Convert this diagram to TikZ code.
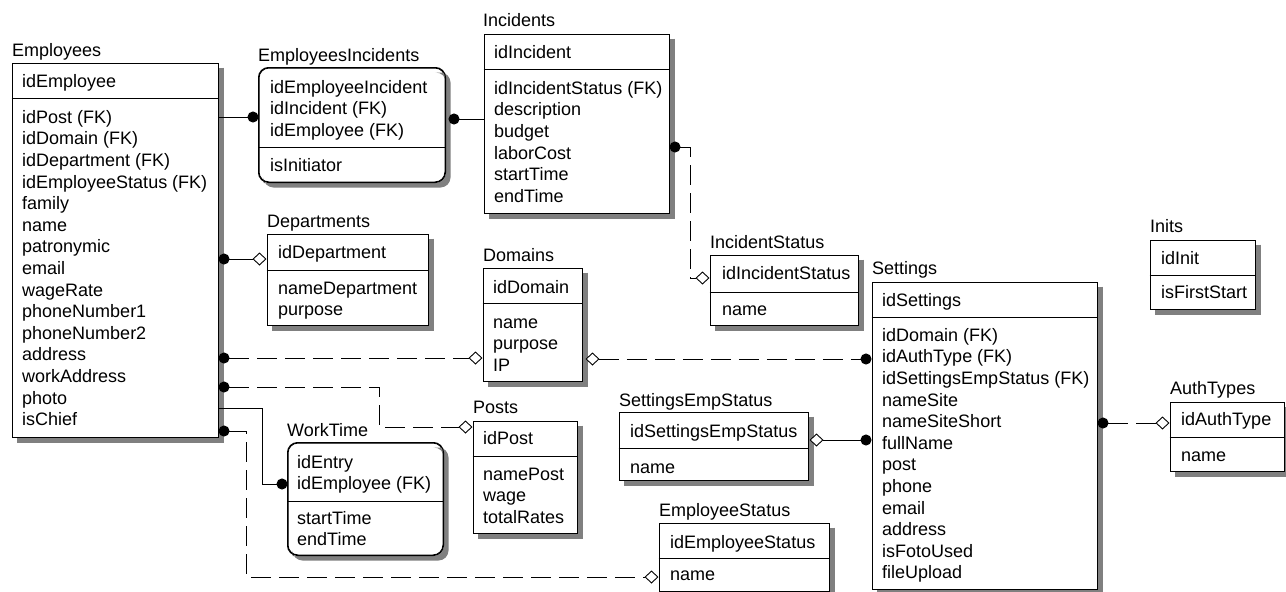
\documentclass[tikz,border=0pt]{standalone}
\usepackage{fontspec}
\setmainfont{Liberation Sans}
\usetikzlibrary{arrows.meta,calc}
\newcommand\erfont{\fontsize{18}{21.6}\selectfont}
\tikzset{
  ent/.style={draw, line width=1pt, fill=white, inner sep=0pt},
  rent/.style={ent, rounded corners=10pt},
  shadowstroke/.style={draw=black!50, line width=5pt, line cap=butt, line join=miter},
  keysep/.style={line width=1pt},
  ttl/.style={anchor=base west, inner sep=0pt, font=\erfont},
  fld/.style={anchor=north west, inner sep=0pt, align=left, font=\erfont},
  rel/.style={line width=0.9pt},
  opt/.style={dash pattern=on 20pt off 8pt},
  fkdot/.tip={Circle[length=11pt]},
  fkdia/.tip={Diamond[length=14pt,width=13pt,fill=white,line width=0.9pt]},
}
\begin{document}
\begin{tikzpicture}[x=1pt,y=-1pt]
\useasboundingbox (0,0) rectangle (1286,592);

% ---------- entity boxes ----------
\node[ent,  minimum width=206pt, minimum height=374pt] (emp) at (115,250) {};
\node[rent, minimum width=186pt, minimum height=114pt] (ei)  at (352,125) {};
\node[ent,  minimum width=185pt, minimum height=179pt] (inc) at (576.5,123.5) {};
\node[ent,  minimum width=161pt, minimum height=91pt]  (dep) at (347.5,279.5) {};
\node[ent,  minimum width=99pt,  minimum height=113pt] (dom) at (532.5,324.5) {};
\node[ent,  minimum width=148pt, minimum height=70pt]  (ist) at (784,290) {};
\node[ent,  minimum width=225pt, minimum height=307pt] (set) at (984.5,435.5) {};
\node[ent,  minimum width=105pt, minimum height=69pt]  (ini) at (1202.5,274.5) {};
\node[ent,  minimum width=114pt, minimum height=69pt]  (aut) at (1227,436.5) {};
\node[ent,  minimum width=104pt, minimum height=112pt] (pos) at (525,477) {};
\node[rent, minimum width=155pt, minimum height=112pt] (wt)  at (365.5,499) {};
\node[ent,  minimum width=189pt, minimum height=68pt]  (ses) at (713.5,446) {};
\node[ent,  minimum width=170pt, minimum height=68pt]  (est) at (744,557) {};

% ---------- shadows: grey strips along the right and bottom sides ----------
\draw[shadowstroke] ([shift={(2.5,5)}]emp.north east) -- ([shift={(2.5,2.5)}]emp.south east) -- ([shift={(5,2.5)}]emp.south west);
\draw[shadowstroke] ([shift={(2.5,5)}]inc.north east) -- ([shift={(2.5,2.5)}]inc.south east) -- ([shift={(5,2.5)}]inc.south west);
\draw[shadowstroke] ([shift={(2.5,5)}]dep.north east) -- ([shift={(2.5,2.5)}]dep.south east) -- ([shift={(5,2.5)}]dep.south west);
\draw[shadowstroke] ([shift={(2.5,5)}]dom.north east) -- ([shift={(2.5,2.5)}]dom.south east) -- ([shift={(5,2.5)}]dom.south west);
\draw[shadowstroke] ([shift={(2.5,5)}]ist.north east) -- ([shift={(2.5,2.5)}]ist.south east) -- ([shift={(5,2.5)}]ist.south west);
\draw[shadowstroke] ([shift={(2.5,5)}]set.north east) -- ([shift={(2.5,2.5)}]set.south east) -- ([shift={(5,2.5)}]set.south west);
\draw[shadowstroke] ([shift={(2.5,5)}]ini.north east) -- ([shift={(2.5,2.5)}]ini.south east) -- ([shift={(5,2.5)}]ini.south west);
\draw[shadowstroke] ([shift={(2.5,5)}]aut.north east) -- ([shift={(2.5,2.5)}]aut.south east) -- ([shift={(5,2.5)}]aut.south west);
\draw[shadowstroke] ([shift={(2.5,5)}]pos.north east) -- ([shift={(2.5,2.5)}]pos.south east) -- ([shift={(5,2.5)}]pos.south west);
\draw[shadowstroke] ([shift={(2.5,5)}]ses.north east) -- ([shift={(2.5,2.5)}]ses.south east) -- ([shift={(5,2.5)}]ses.south west);
\draw[shadowstroke] ([shift={(2.5,5)}]est.north east) -- ([shift={(2.5,2.5)}]est.south east) -- ([shift={(5,2.5)}]est.south west);
% rounded boxes: strips follow the rounded outline
\fill[black!50, rounded corners=10pt] ([shift={(-10,5)}]ei.north east) -- ([shift={(5,5)}]ei.north east) -- ([shift={(5,5)}]ei.south east) -- ([shift={(5,5)}]ei.south west) -- ([shift={(5,-10)}]ei.south west) [sharp corners] -- ([shift={(5,0.5)}]ei.south west) [rounded corners=10pt] -- ([shift={(0.5,0.5)}]ei.south east) -- ([shift={(0.5,5)}]ei.north east) [sharp corners] -- cycle;
\fill[black!50, rounded corners=10pt] ([shift={(-10,5)}]wt.north east) -- ([shift={(5,5)}]wt.north east) -- ([shift={(5,5)}]wt.south east) -- ([shift={(5,5)}]wt.south west) -- ([shift={(5,-10)}]wt.south west) [sharp corners] -- ([shift={(5,0.5)}]wt.south west) [rounded corners=10pt] -- ([shift={(0.5,0.5)}]wt.south east) -- ([shift={(0.5,5)}]wt.north east) [sharp corners] -- cycle;
\draw[line width=1pt, rounded corners=10pt] (ei.north west) rectangle (ei.south east);
\draw[line width=1pt, rounded corners=10pt] (wt.north west) rectangle (wt.south east);

% ---------- key / attribute separators ----------
\draw[keysep] (emp.west |- 0,98)  -- (emp.east |- 0,98);
\draw[keysep] (ei.west |- 0,147)  -- (ei.east |- 0,147);
\draw[keysep] (inc.west |- 0,69)  -- (inc.east |- 0,69);
\draw[keysep] (dep.west |- 0,270) -- (dep.east |- 0,270);
\draw[keysep] (dom.west |- 0,303) -- (dom.east |- 0,303);
\draw[keysep] (ist.west |- 0,292) -- (ist.east |- 0,292);
\draw[keysep] (set.west |- 0,317) -- (set.east |- 0,317);
\draw[keysep] (ini.west |- 0,275) -- (ini.east |- 0,275);
\draw[keysep] (aut.west |- 0,437) -- (aut.east |- 0,437);
\draw[keysep] (pos.west |- 0,456) -- (pos.east |- 0,456);
\draw[keysep] (wt.west |- 0,501)  -- (wt.east |- 0,501);
\draw[keysep] (ses.west |- 0,448) -- (ses.east |- 0,448);
\draw[keysep] (est.west |- 0,558) -- (est.east |- 0,558);

% ---------- titles ----------
\node[ttl] (emp-t) at (12,56)    {Employees};
\node[ttl] (ei-t)  at (258,61)   {EmployeesIncidents};
\node[ttl] (inc-t) at (483,26)   {Incidents};
\node[ttl] (dep-t) at (267,227)  {Departments};
\node[ttl] (dom-t) at (483,261)  {Domains};
\node[ttl] (ist-t) at (710,248)  {IncidentStatus};
\node[ttl] (set-t) at (872,274)  {Settings};
\node[ttl] (ini-t) at (1150,232) {Inits};
\node[ttl] (aut-t) at (1170,394) {AuthTypes};
\node[ttl] (pos-t) at (473,413)  {Posts};
\node[ttl] (wt-t)  at (287,436)  {WorkTime};
\node[ttl] (ses-t) at (619,406)  {SettingsEmpStatus};
\node[ttl] (est-t) at (659,516)  {EmployeeStatus};

% ---------- fields ----------
\node[fld] (emp-k) at (22,71.9) {\strut idEmployee};
\node[fld] (emp-a) at (22,107.9) {\strut idPost (FK)\\idDomain (FK)\\idDepartment (FK)\\idEmployeeStatus (FK)\\family\\name\\patronymic\\email\\wageRate\\phoneNumber1\\phoneNumber2\\address\\workAddress\\photo\\isChief};

\node[fld] (ei-k) at (270,77.9) {\strut idEmployeeIncident\\idIncident (FK)\\idEmployee (FK)};
\node[fld] (ei-a) at (270,155.9) {\strut isInitiator};

\node[fld] (inc-k) at (494,42.9) {\strut idIncident};
\node[fld] (inc-a) at (494,78.9) {\strut idIncidentStatus (FK)\\description\\budget\\laborCost\\startTime\\endTime};

\node[fld] (dep-k) at (278,242.9) {\strut idDepartment};
\node[fld] (dep-a) at (278,278.9) {\strut nameDepartment\\purpose};

\node[fld] (dom-k) at (493,277.9) {\strut idDomain};
\node[fld] (dom-a) at (493,312.9) {\strut name\\purpose\\IP};

\node[fld] (ist-k) at (722,263.9) {\strut idIncidentStatus};
\node[fld] (ist-a) at (722,299.9) {\strut name};

\node[fld] (set-k) at (882,290.9) {\strut idSettings};
\node[fld] (set-a) at (882,325.9) {\strut idDomain (FK)\\idAuthType (FK)\\idSettingsEmpStatus (FK)\\nameSite\\nameSiteShort\\fullName\\post\\phone\\email\\address\\isFotoUsed\\fileUpload};

\node[fld] (ini-k) at (1161,248.9) {\strut idInit};
\node[fld] (ini-a) at (1161,282.9) {\strut isFirstStart};

\node[fld] (aut-k) at (1181,409.9) {\strut idAuthType};
\node[fld] (aut-a) at (1181,445.9) {\strut name};

\node[fld] (pos-k) at (483,428.9) {\strut idPost};
\node[fld] (pos-a) at (483,464.9) {\strut namePost\\wage\\totalRates};

\node[fld] (wt-k) at (297,452.9) {\strut idEntry\\idEmployee (FK)};
\node[fld] (wt-a) at (297,508.9) {\strut startTime\\endTime};

\node[fld] (ses-k) at (630,421.9) {\strut idSettingsEmpStatus};
\node[fld] (ses-a) at (630,457.9) {\strut name};

\node[fld] (est-k) at (670,532.9) {\strut idEmployeeStatus};
\node[fld] (est-a) at (670,564.9) {\strut name};

% ---------- relationships ----------
\draw[rel,-fkdot] (emp.east |- 0,117) -- (ei.west |- 0,117);
\draw[rel,fkdot-] ($(ei.east |- 0,119)+(3,0)$) -- (inc.west |- 0,119);
\draw[rel,opt,fkdot-fkdia] (inc.east |- 0,147) -- (690,147) -- (690,278) -- (ist.west |- 0,278);
\draw[rel,fkdot-fkdia] (emp.east |- 0,259) -- (dep.west |- 0,259);
\draw[rel,opt,fkdot-fkdia] (emp.east |- 0,358) -- (dom.west |- 0,358);
\draw[rel,opt,fkdia-fkdot] ($(dom.east |- 0,359)+(3,0)$) -- (set.west |- 0,359);
\draw[rel,opt,fkdot-fkdia] (emp.east |- 0,387) -- (379,387) -- (379,427) -- (pos.west |- 0,427);
\draw[rel,-fkdot] (emp.east |- 0,408) -- (262,408) -- (262,484) -- (wt.west |- 0,484);
\draw[rel,opt,fkdot-fkdia] (emp.east |- 0,431) -- (246,431) -- (246,577) -- (est.west |- 0,577);
\draw[rel,fkdia-fkdot] ($(ses.east |- 0,440)+(1,0)$) -- (set.west |- 0,440);
\draw[rel,opt,fkdot-fkdia] (set.east |- 0,423) -- (aut.west |- 0,423);
\end{tikzpicture}
\end{document}
